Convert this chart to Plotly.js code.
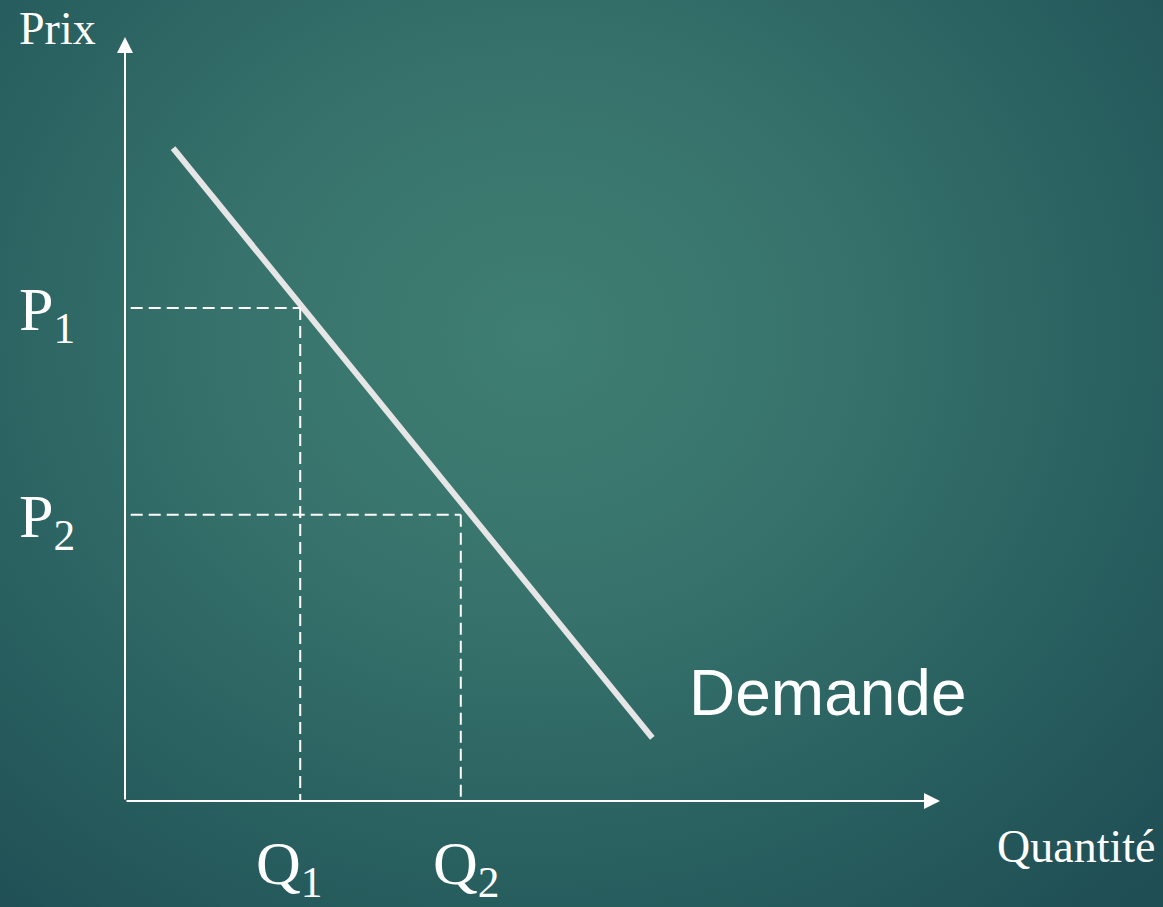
<!DOCTYPE html>
<html>
<head>
<meta charset="utf-8">
<script src="https://cdn.plot.ly/plotly-3.0.1.min.js"></script>
<style>
  html, body { margin: 0; padding: 0; }
  body {
    width: 1163px; height: 907px; overflow: hidden;
    background: radial-gradient(ellipse 75% 85% at 46% 37%, #3f7e72 0%, #37736c 35%, #2a6261 65%, #1f4e54 100%);
  }
  #chart { width: 1163px; height: 907px; }
</style>
</head>
<body>
<div id="chart"></div>
<script>
// Demand curve (quantity, price) in abstract units
const demandQ = [0.59, 6.47];
const demandP = [8.58, 0.83];
// Reference points
const priceLevels = [6.48, 3.76];       // P1, P2
const quantityLevels = [2.15, 4.12];    // Q1, Q2
const priceLabels = ['P<sub>1</sub>', 'P<sub>2</sub>'];
const quantityLabels = ['Q<sub>1</sub>', 'Q<sub>2</sub>'];
const curveLabel = 'Demande';
const xAxisLabel = 'Quantité';
const yAxisLabel = 'Prix';
const axisEnd = { q: 10.0, p: 10.04 };

const serif = '"Liberation Serif", "Times New Roman", serif';
const sans = '"Liberation Sans", Arial, sans-serif';

const traces = [{
  x: demandQ, y: demandP, type: 'scatter', mode: 'lines',
  line: { color: '#e6e6e6', width: 6 },
  hoverinfo: 'skip', showlegend: false
}];

const shapes = [];
for (let i = 0; i < priceLevels.length; i++) {
  shapes.push({ type: 'line', xref: 'x', yref: 'y',
    x0: 0.07, x1: quantityLevels[i], y0: priceLevels[i], y1: priceLevels[i],
    line: { color: '#ffffff', width: 2, dash: '12px,6px' } });
  shapes.push({ type: 'line', xref: 'x', yref: 'y',
    x0: quantityLevels[i], x1: quantityLevels[i], y0: priceLevels[i], y1: 0,
    line: { color: '#ffffff', width: 2, dash: '12px,6px' } });
}

const annotations = [
  // axes with arrows
  { xref: 'x', yref: 'y', axref: 'x', ayref: 'y', x: 0, y: axisEnd.p, ax: 0, ay: 0,
    showarrow: true, arrowhead: 2, arrowsize: 1.6, arrowwidth: 2, arrowcolor: '#ffffff', text: '', standoff: 0 },
  { xref: 'x', yref: 'y', axref: 'x', ayref: 'y', x: axisEnd.q, y: 0, ax: 0, ay: 0,
    showarrow: true, arrowhead: 2, arrowsize: 1.6, arrowwidth: 2, arrowcolor: '#ffffff', text: '', standoff: 0 },
  // axis titles
  { xref: 'paper', yref: 'paper', x: -0.104, y: 0.965, xanchor: 'left', yanchor: 'middle',
    text: yAxisLabel, showarrow: false, font: { family: serif, size: 46, color: '#ffffff' } },
  { xref: 'paper', yref: 'paper', x: 0.838, y: -0.0574, xanchor: 'left', yanchor: 'middle',
    text: xAxisLabel, showarrow: false, font: { family: serif, size: 46, color: '#ffffff' } },
  // curve label
  { xref: 'x', yref: 'y', x: 6.9, y: 1.42, xanchor: 'left', yanchor: 'middle',
    text: curveLabel, showarrow: false, font: { family: sans, size: 64, color: '#ffffff' } }
];
for (let i = 0; i < priceLevels.length; i++) {
  annotations.push({ xref: 'paper', yref: 'y', x: -0.104, y: priceLevels[i],
    xanchor: 'left', yanchor: 'middle', yshift: -6,
    text: priceLabels[i], showarrow: false, font: { family: serif, size: 62, color: '#ffffff' } });
}
const qShift = [-11, 5];
for (let i = 0; i < quantityLevels.length; i++) {
  annotations.push({ xref: 'x', yref: 'paper', x: quantityLevels[i], y: -0.0826,
    xanchor: 'center', yanchor: 'middle', xshift: qShift[i],
    text: quantityLabels[i], showarrow: false, font: { family: serif, size: 62, color: '#ffffff' } });
}

const axisBase = { showgrid: false, zeroline: false, showline: false, showticklabels: false, ticks: '', fixedrange: true };

const layout = {
  width: 1163, height: 907,
  margin: { l: 125, r: 0, t: 0, b: 106, pad: 0 },
  paper_bgcolor: 'rgba(0,0,0,0)', plot_bgcolor: 'rgba(0,0,0,0)',
  xaxis: Object.assign({ range: [0, 12.736] }, axisBase),
  yaxis: Object.assign({ range: [0, 10.526] }, axisBase),
  shapes: shapes,
  annotations: annotations,
  showlegend: false
};

Plotly.newPlot('chart', traces, layout, { staticPlot: true, displayModeBar: false });
</script>
</body>
</html>
